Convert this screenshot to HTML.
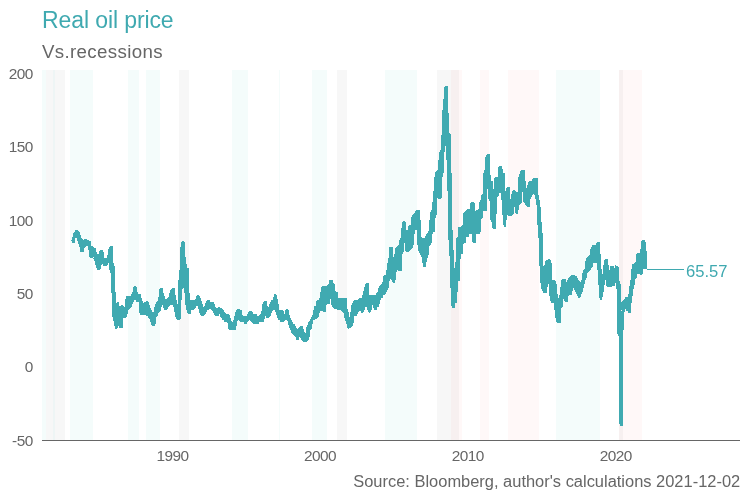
<!DOCTYPE html>
<html lang="en">
<head>
<meta charset="utf-8">
<title>Real oil price</title>
<style>
html,body{margin:0;padding:0;background:#fff;}
body{width:750px;height:500px;overflow:hidden;font-family:"Liberation Sans",Arial,sans-serif;}
svg{display:block;}
text{font-family:"Liberation Sans",Arial,sans-serif;}
</style>
</head>
<body>
<svg width="750" height="500" viewBox="0 0 750 500">
<rect x="0" y="0" width="750" height="500" fill="#ffffff"/>
<g shape-rendering="crispEdges">
<rect x="42" y="70" width="4.0" height="370" fill="#f4fcfb" style="mix-blend-mode:multiply"/>
<rect x="46" y="70" width="7.0" height="370" fill="#f7f7f7" style="mix-blend-mode:multiply"/>
<rect x="53" y="70" width="2.0" height="370" fill="#eef5f5" style="mix-blend-mode:multiply"/>
<rect x="55" y="70" width="10.0" height="370" fill="#f7f7f7" style="mix-blend-mode:multiply"/>
<rect x="70" y="70" width="23.0" height="370" fill="#f4fcfb" style="mix-blend-mode:multiply"/>
<rect x="128" y="70" width="11.0" height="370" fill="#f4fcfb" style="mix-blend-mode:multiply"/>
<rect x="146" y="70" width="14.0" height="370" fill="#f4fcfb" style="mix-blend-mode:multiply"/>
<rect x="179" y="70" width="10.0" height="370" fill="#f7f7f7" style="mix-blend-mode:multiply"/>
<rect x="232" y="70" width="16.0" height="370" fill="#f4fcfb" style="mix-blend-mode:multiply"/>
<rect x="279" y="70" width="1.0" height="370" fill="#f4fcfb" style="mix-blend-mode:multiply"/>
<rect x="312" y="70" width="15.0" height="370" fill="#f4fcfb" style="mix-blend-mode:multiply"/>
<rect x="337" y="70" width="10.0" height="370" fill="#f7f7f7" style="mix-blend-mode:multiply"/>
<rect x="385" y="70" width="32.0" height="370" fill="#f4fcfb" style="mix-blend-mode:multiply"/>
<rect x="437" y="70" width="22.0" height="370" fill="#f7f7f7" style="mix-blend-mode:multiply"/>
<rect x="451" y="70" width="11.0" height="370" fill="#fff8f8" style="mix-blend-mode:multiply"/>
<rect x="480" y="70" width="9.0" height="370" fill="#fff8f8" style="mix-blend-mode:multiply"/>
<rect x="508" y="70" width="31.0" height="370" fill="#fff8f8" style="mix-blend-mode:multiply"/>
<rect x="556" y="70" width="44.0" height="370" fill="#f4fcfb" style="mix-blend-mode:multiply"/>
<rect x="619" y="70" width="4.0" height="370" fill="#f7f7f7" style="mix-blend-mode:multiply"/>
<rect x="619" y="70" width="23.0" height="370" fill="#fff8f8" style="mix-blend-mode:multiply"/>
</g>
<path fill="#40aab1" shape-rendering="crispEdges" d="M71 240h1v1h-1zM72 237h1v6h-1zM73 233h1v10h-1zM74 232h1v11h-1zM75 230h1v8h-1zM76 230h1v8h-1zM77 230h1v11h-1zM78 231h1v13h-1zM79 232h1v15h-1zM80 235h1v17h-1zM81 238h1v14h-1zM82 239h1v13h-1zM83 240h1v12h-1zM84 239h1v9h-1zM85 239h1v8h-1zM86 239h1v7h-1zM87 240h1v6h-1zM88 240h1v10h-1zM89 241h1v16h-1zM90 241h1v17h-1zM91 246h1v12h-1zM92 246h1v12h-1zM93 247h1v12h-1zM94 248h1v13h-1zM95 248h1v17h-1zM96 252h1v16h-1zM97 254h1v16h-1zM98 254h1v16h-1zM99 251h1v19h-1zM100 250h1v19h-1zM101 250h1v15h-1zM102 250h1v14h-1zM103 252h1v14h-1zM104 258h1v8h-1zM105 258h1v8h-1zM106 258h1v8h-1zM107 255h1v10h-1zM108 249h1v14h-1zM109 247h1v23h-1zM110 246h1v27h-1zM111 246h1v47h-1zM112 246h1v71h-1zM113 263h1v58h-1zM114 266h1v60h-1zM115 292h1v37h-1zM116 303h1v26h-1zM117 302h1v26h-1zM118 302h1v24h-1zM119 306h1v22h-1zM120 306h1v22h-1zM121 305h1v23h-1zM122 305h1v23h-1zM123 306h1v12h-1zM124 307h1v11h-1zM125 299h1v19h-1zM126 296h1v21h-1zM127 296h1v18h-1zM128 296h1v14h-1zM129 296h1v13h-1zM130 296h1v12h-1zM131 294h1v13h-1zM132 292h1v12h-1zM133 287h1v15h-1zM134 286h1v14h-1zM135 286h1v14h-1zM136 287h1v15h-1zM137 292h1v10h-1zM138 294h1v8h-1zM139 294h1v19h-1zM140 294h1v21h-1zM141 298h1v17h-1zM142 301h1v14h-1zM143 303h1v12h-1zM144 302h1v13h-1zM145 302h1v13h-1zM146 301h1v15h-1zM147 301h1v15h-1zM148 302h1v16h-1zM149 305h1v14h-1zM150 308h1v14h-1zM151 310h1v15h-1zM152 312h1v14h-1zM153 312h1v14h-1zM154 307h1v19h-1zM155 304h1v20h-1zM156 302h1v15h-1zM157 301h1v15h-1zM158 297h1v16h-1zM159 289h1v23h-1zM160 288h1v23h-1zM161 288h1v19h-1zM162 288h1v17h-1zM163 293h1v15h-1zM164 296h1v14h-1zM165 299h1v11h-1zM166 299h1v11h-1zM167 298h1v11h-1zM168 297h1v10h-1zM169 293h1v13h-1zM170 290h1v15h-1zM171 289h1v16h-1zM172 288h1v17h-1zM173 288h1v19h-1zM174 288h1v24h-1zM175 295h1v22h-1zM176 300h1v19h-1zM177 304h1v16h-1zM178 280h1v40h-1zM179 270h1v50h-1zM180 247h1v72h-1zM181 242h1v58h-1zM182 241h1v48h-1zM183 241h1v47h-1zM184 242h1v51h-1zM185 257h1v48h-1zM186 264h1v46h-1zM187 268h1v45h-1zM188 268h1v46h-1zM189 293h1v21h-1zM190 300h1v14h-1zM191 300h1v10h-1zM192 300h1v10h-1zM193 300h1v10h-1zM194 300h1v9h-1zM195 299h1v9h-1zM196 296h1v10h-1zM197 295h1v11h-1zM198 295h1v14h-1zM199 296h1v17h-1zM200 298h1v17h-1zM201 301h1v15h-1zM202 304h1v12h-1zM203 307h1v9h-1zM204 306h1v9h-1zM205 303h1v11h-1zM206 301h1v11h-1zM207 300h1v10h-1zM208 300h1v10h-1zM209 300h1v9h-1zM210 302h1v7h-1zM211 302h1v8h-1zM212 302h1v9h-1zM213 302h1v11h-1zM214 304h1v11h-1zM215 307h1v9h-1zM216 308h1v8h-1zM217 308h1v8h-1zM218 307h1v9h-1zM219 307h1v7h-1zM220 308h1v9h-1zM221 308h1v10h-1zM222 309h1v11h-1zM223 310h1v10h-1zM224 312h1v10h-1zM225 313h1v9h-1zM226 314h1v8h-1zM227 314h1v9h-1zM228 314h1v15h-1zM229 315h1v15h-1zM230 318h1v12h-1zM231 321h1v9h-1zM232 322h1v8h-1zM233 320h1v10h-1zM234 316h1v14h-1zM235 312h1v18h-1zM236 310h1v16h-1zM237 309h1v12h-1zM238 309h1v11h-1zM239 309h1v12h-1zM240 310h1v12h-1zM241 310h1v12h-1zM242 315h1v7h-1zM243 316h1v6h-1zM244 316h1v8h-1zM245 316h1v8h-1zM246 316h1v8h-1zM247 314h1v8h-1zM248 312h1v9h-1zM249 311h1v9h-1zM250 311h1v10h-1zM251 311h1v11h-1zM252 312h1v11h-1zM253 314h1v10h-1zM254 314h1v10h-1zM255 314h1v10h-1zM256 314h1v10h-1zM257 316h1v8h-1zM258 316h1v8h-1zM259 315h1v7h-1zM260 314h1v8h-1zM261 311h1v11h-1zM262 304h1v18h-1zM263 302h1v20h-1zM264 301h1v18h-1zM265 301h1v15h-1zM266 301h1v17h-1zM267 306h1v12h-1zM268 307h1v11h-1zM269 304h1v13h-1zM270 302h1v14h-1zM271 300h1v13h-1zM272 300h1v11h-1zM273 297h1v13h-1zM274 294h1v16h-1zM275 294h1v18h-1zM276 295h1v20h-1zM277 299h1v19h-1zM278 304h1v16h-1zM279 310h1v10h-1zM280 310h1v12h-1zM281 310h1v12h-1zM282 310h1v12h-1zM283 311h1v11h-1zM284 314h1v7h-1zM285 310h1v10h-1zM286 309h1v11h-1zM287 309h1v12h-1zM288 310h1v15h-1zM289 315h1v13h-1zM290 318h1v12h-1zM291 320h1v13h-1zM292 322h1v12h-1zM293 324h1v11h-1zM294 324h1v12h-1zM295 326h1v11h-1zM296 328h1v12h-1zM297 329h1v11h-1zM298 328h1v12h-1zM299 327h1v10h-1zM300 326h1v12h-1zM301 326h1v14h-1zM302 326h1v15h-1zM303 329h1v13h-1zM304 332h1v10h-1zM305 333h1v9h-1zM306 327h1v15h-1zM307 325h1v16h-1zM308 322h1v18h-1zM309 321h1v16h-1zM310 319h1v11h-1zM311 317h1v12h-1zM312 315h1v9h-1zM313 310h1v10h-1zM314 306h1v14h-1zM315 306h1v13h-1zM316 301h1v18h-1zM317 300h1v18h-1zM318 300h1v17h-1zM319 298h1v15h-1zM320 292h1v19h-1zM321 287h1v24h-1zM322 286h1v25h-1zM323 286h1v26h-1zM324 286h1v26h-1zM325 286h1v26h-1zM326 286h1v19h-1zM327 285h1v19h-1zM328 284h1v20h-1zM329 280h1v24h-1zM330 280h1v19h-1zM331 280h1v25h-1zM332 280h1v27h-1zM333 283h1v25h-1zM334 284h1v25h-1zM335 291h1v18h-1zM336 292h1v17h-1zM337 292h1v18h-1zM338 298h1v12h-1zM339 298h1v12h-1zM340 298h1v12h-1zM341 298h1v13h-1zM342 298h1v14h-1zM343 298h1v15h-1zM344 298h1v20h-1zM345 298h1v23h-1zM346 298h1v26h-1zM347 309h1v19h-1zM348 312h1v17h-1zM349 317h1v11h-1zM350 312h1v16h-1zM351 305h1v22h-1zM352 303h1v23h-1zM353 301h1v22h-1zM354 300h1v16h-1zM355 300h1v16h-1zM356 300h1v16h-1zM357 300h1v14h-1zM358 299h1v13h-1zM359 298h1v13h-1zM360 298h1v13h-1zM361 298h1v15h-1zM362 295h1v18h-1zM363 291h1v21h-1zM364 287h1v23h-1zM365 284h1v23h-1zM366 283h1v24h-1zM367 283h1v27h-1zM368 283h1v29h-1zM369 295h1v18h-1zM370 295h1v17h-1zM371 295h1v15h-1zM372 295h1v10h-1zM373 295h1v13h-1zM374 295h1v15h-1zM375 295h1v15h-1zM376 293h1v17h-1zM377 292h1v15h-1zM378 288h1v19h-1zM379 286h1v18h-1zM380 285h1v15h-1zM381 284h1v14h-1zM382 282h1v16h-1zM383 276h1v19h-1zM384 275h1v20h-1zM385 275h1v19h-1zM386 270h1v22h-1zM387 263h1v27h-1zM388 258h1v30h-1zM389 247h1v34h-1zM390 247h1v32h-1zM391 247h1v33h-1zM392 247h1v35h-1zM393 257h1v26h-1zM394 254h1v29h-1zM395 248h1v32h-1zM396 247h1v25h-1zM397 246h1v24h-1zM398 245h1v26h-1zM399 240h1v31h-1zM400 238h1v33h-1zM401 228h1v43h-1zM402 222h1v32h-1zM403 221h1v31h-1zM404 221h1v22h-1zM405 222h1v29h-1zM406 230h1v22h-1zM407 230h1v22h-1zM408 226h1v26h-1zM409 225h1v26h-1zM410 225h1v25h-1zM411 217h1v32h-1zM412 215h1v33h-1zM413 214h1v31h-1zM414 213h1v21h-1zM415 211h1v19h-1zM416 210h1v20h-1zM417 210h1v35h-1zM418 210h1v41h-1zM419 210h1v43h-1zM420 220h1v35h-1zM421 237h1v20h-1zM422 238h1v25h-1zM423 238h1v29h-1zM424 238h1v29h-1zM425 236h1v31h-1zM426 234h1v28h-1zM427 233h1v25h-1zM428 231h1v24h-1zM429 220h1v26h-1zM430 212h1v33h-1zM431 210h1v33h-1zM432 202h1v32h-1zM433 191h1v41h-1zM434 177h1v55h-1zM435 172h1v46h-1zM436 171h1v44h-1zM437 170h1v28h-1zM438 160h1v39h-1zM439 152h1v47h-1zM440 150h1v49h-1zM441 135h1v63h-1zM442 110h1v67h-1zM443 99h1v74h-1zM444 87h1v65h-1zM445 86h1v60h-1zM446 86h1v74h-1zM447 86h1v105h-1zM448 113h1v127h-1zM449 133h1v123h-1zM450 134h1v154h-1zM451 173h1v133h-1zM452 230h1v78h-1zM453 250h1v58h-1zM454 268h1v40h-1zM455 262h1v41h-1zM456 238h1v65h-1zM457 237h1v55h-1zM458 227h1v54h-1zM459 227h1v54h-1zM460 227h1v32h-1zM461 226h1v28h-1zM462 225h1v29h-1zM463 213h1v31h-1zM464 212h1v31h-1zM465 211h1v32h-1zM466 210h1v27h-1zM467 209h1v28h-1zM468 209h1v28h-1zM469 209h1v25h-1zM470 203h1v31h-1zM471 202h1v32h-1zM472 202h1v40h-1zM473 202h1v41h-1zM474 203h1v40h-1zM475 211h1v32h-1zM476 210h1v24h-1zM477 210h1v24h-1zM478 209h1v25h-1zM479 202h1v32h-1zM480 200h1v32h-1zM481 195h1v24h-1zM482 194h1v24h-1zM483 173h1v38h-1zM484 170h1v41h-1zM485 157h1v54h-1zM486 155h1v56h-1zM487 154h1v35h-1zM488 154h1v45h-1zM489 154h1v47h-1zM490 175h1v45h-1zM491 181h1v41h-1zM492 181h1v47h-1zM493 189h1v40h-1zM494 178h1v51h-1zM495 177h1v52h-1zM496 177h1v37h-1zM497 177h1v20h-1zM498 167h1v29h-1zM499 166h1v27h-1zM500 166h1v27h-1zM501 166h1v34h-1zM502 169h1v46h-1zM503 173h1v52h-1zM504 173h1v54h-1zM505 191h1v36h-1zM506 188h1v32h-1zM507 187h1v28h-1zM508 187h1v29h-1zM509 187h1v29h-1zM510 199h1v17h-1zM511 194h1v22h-1zM512 191h1v24h-1zM513 190h1v24h-1zM514 190h1v17h-1zM515 191h1v22h-1zM516 192h1v22h-1zM517 192h1v22h-1zM518 177h1v33h-1zM519 174h1v31h-1zM520 171h1v33h-1zM521 170h1v33h-1zM522 170h1v22h-1zM523 170h1v32h-1zM524 170h1v33h-1zM525 181h1v24h-1zM526 188h1v18h-1zM527 185h1v22h-1zM528 182h1v25h-1zM529 181h1v26h-1zM530 181h1v18h-1zM531 181h1v16h-1zM532 179h1v16h-1zM533 178h1v16h-1zM534 178h1v17h-1zM535 178h1v21h-1zM536 178h1v27h-1zM537 178h1v47h-1zM538 195h1v43h-1zM539 200h1v66h-1zM540 207h1v76h-1zM541 222h1v67h-1zM542 233h1v58h-1zM543 266h1v27h-1zM544 265h1v28h-1zM545 261h1v32h-1zM546 260h1v33h-1zM547 260h1v27h-1zM548 259h1v25h-1zM549 259h1v37h-1zM550 260h1v41h-1zM551 263h1v40h-1zM552 280h1v23h-1zM553 280h1v23h-1zM554 280h1v30h-1zM555 281h1v37h-1zM556 284h1v38h-1zM557 294h1v29h-1zM558 298h1v25h-1zM559 295h1v28h-1zM560 287h1v36h-1zM561 280h1v28h-1zM562 279h1v28h-1zM563 279h1v20h-1zM564 279h1v22h-1zM565 279h1v23h-1zM566 282h1v20h-1zM567 280h1v22h-1zM568 278h1v18h-1zM569 277h1v18h-1zM570 276h1v19h-1zM571 275h1v20h-1zM572 275h1v16h-1zM573 275h1v13h-1zM574 275h1v15h-1zM575 276h1v16h-1zM576 276h1v18h-1zM577 278h1v18h-1zM578 280h1v18h-1zM579 281h1v17h-1zM580 282h1v15h-1zM581 280h1v14h-1zM582 273h1v19h-1zM583 270h1v18h-1zM584 269h1v15h-1zM585 261h1v19h-1zM586 258h1v20h-1zM587 257h1v16h-1zM588 256h1v16h-1zM589 255h1v16h-1zM590 249h1v21h-1zM591 247h1v21h-1zM592 245h1v22h-1zM593 245h1v18h-1zM594 245h1v18h-1zM595 245h1v18h-1zM596 243h1v20h-1zM597 242h1v28h-1zM598 242h1v43h-1zM599 242h1v56h-1zM600 254h1v46h-1zM601 269h1v31h-1zM602 274h1v23h-1zM603 265h1v27h-1zM604 260h1v25h-1zM605 259h1v21h-1zM606 259h1v27h-1zM607 259h1v28h-1zM608 265h1v22h-1zM609 270h1v17h-1zM610 266h1v21h-1zM611 266h1v21h-1zM612 266h1v20h-1zM613 266h1v20h-1zM614 268h1v18h-1zM615 265h1v18h-1zM616 266h1v23h-1zM617 266h1v68h-1zM618 267h1v69h-1zM619 281h1v143h-1zM620 284h1v142h-1zM621 302h1v124h-1zM622 301h1v125h-1zM623 300h1v30h-1zM624 299h1v13h-1zM625 297h1v12h-1zM626 297h1v14h-1zM627 297h1v14h-1zM628 294h1v19h-1zM629 286h1v27h-1zM630 280h1v33h-1zM631 269h1v34h-1zM632 264h1v32h-1zM633 264h1v25h-1zM634 263h1v22h-1zM635 262h1v17h-1zM636 254h1v24h-1zM637 253h1v21h-1zM638 253h1v21h-1zM639 253h1v21h-1zM640 249h1v26h-1zM641 241h1v34h-1zM642 240h1v34h-1zM643 240h1v29h-1zM644 240h1v29h-1zM645 242h1v27h-1zM646 251h1v18h-1z"/>
<rect x="621" y="310" width="1" height="1" fill="#f7f0f0" shape-rendering="crispEdges"/>
<rect x="93" y="257" width="1" height="1" fill="#ffffff" shape-rendering="crispEdges"/>
<rect x="42" y="440" width="698" height="1" fill="#666666" shape-rendering="crispEdges"/>
<text x="42" y="28" font-size="23" letter-spacing="-0.1" fill="#3fa9b0">Real oil price</text>
<text x="42" y="57.6" font-size="18.7" letter-spacing="0.35" fill="#666666">Vs.recessions</text>
<text x="32.7" y="78.7" font-size="15.4" letter-spacing="-0.56" fill="#666666" text-anchor="end">200</text>
<text x="32.7" y="152.1" font-size="15.4" letter-spacing="-0.56" fill="#666666" text-anchor="end">150</text>
<text x="32.7" y="225.5" font-size="15.4" letter-spacing="-0.56" fill="#666666" text-anchor="end">100</text>
<text x="32.7" y="298.9" font-size="15.4" letter-spacing="-0.56" fill="#666666" text-anchor="end">50</text>
<text x="32.7" y="372.3" font-size="15.4" letter-spacing="-0.56" fill="#666666" text-anchor="end">0</text>
<text x="32.7" y="445.7" font-size="15.4" letter-spacing="-0.56" fill="#666666" text-anchor="end">-50</text>
<text x="172.4" y="461.1" font-size="15.4" letter-spacing="-0.56" fill="#666666" text-anchor="middle">1990</text>
<text x="319.9" y="461.1" font-size="15.4" letter-spacing="-0.56" fill="#666666" text-anchor="middle">2000</text>
<text x="467.7" y="461.1" font-size="15.4" letter-spacing="-0.56" fill="#666666" text-anchor="middle">2010</text>
<text x="615.7" y="461.1" font-size="15.4" letter-spacing="-0.56" fill="#666666" text-anchor="middle">2020</text>
<rect x="647" y="269" width="37" height="1" fill="#3fa9b0" shape-rendering="crispEdges"/>
<text x="686" y="276.7" font-size="16.6" fill="#3fa9b0">65.57</text>
<text x="740.2" y="486.5" font-size="16.45" fill="#666666" text-anchor="end">Source: Bloomberg, author's calculations 2021-12-02</text>
</svg>
</body>
</html>
